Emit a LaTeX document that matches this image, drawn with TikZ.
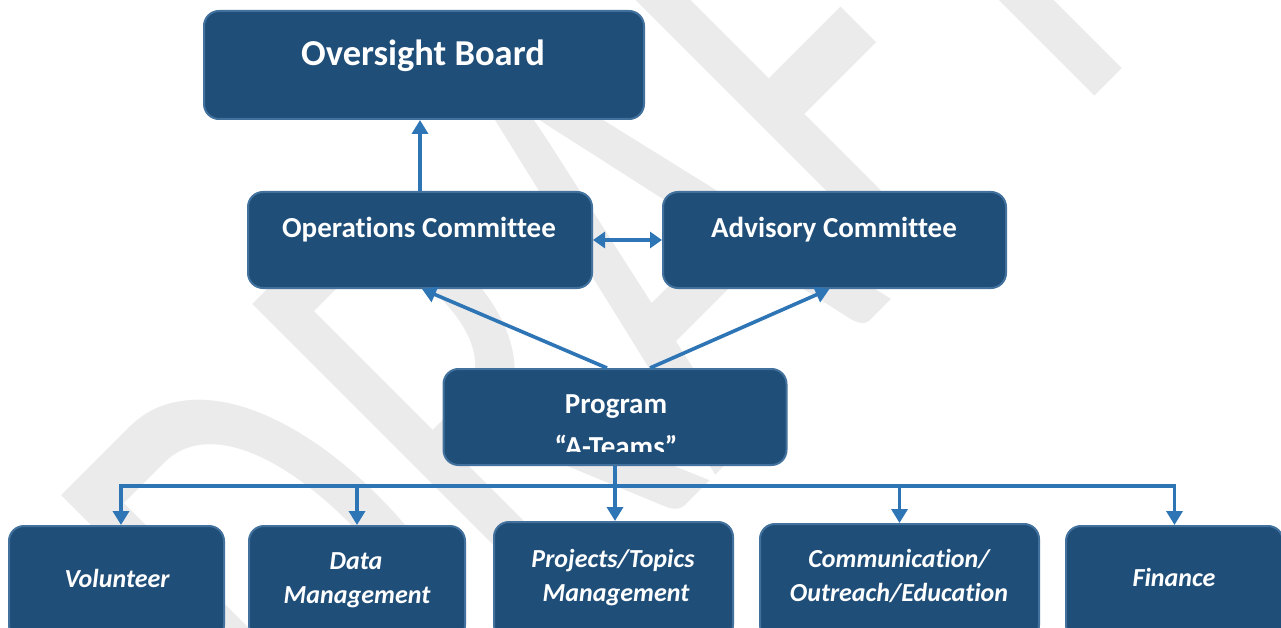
\documentclass[tikz,border=0pt]{standalone}
\usepackage{fontspec}
\setmainfont{Carlito}[Ligatures={TeX,NoCommon}]
\usetikzlibrary{arrows.meta,calc}
\definecolor{boxfill}{RGB}{31,78,121}
\definecolor{boxline}{RGB}{65,113,156}
\definecolor{arrowblue}{RGB}{46,117,182}
\definecolor{wmgray}{RGB}{235,235,235}
\begin{document}
\begin{tikzpicture}[x=1pt,y=-1pt,
 box/.style={draw=boxline,fill=boxfill,line width=2pt,rounded corners=15pt,inner sep=0pt},
 ttl/.style={text=white,inner sep=0pt,anchor=base,font=\bfseries\fontsize{29}{35}\selectfont},
 big/.style={ttl,font=\bfseries\fontsize{36.5}{43}\selectfont},
 sub/.style={ttl,font=\bfseries\itshape\fontsize{26}{31}\selectfont},
 conn/.style={draw=arrowblue,line width=3.6pt},
 arr/.style={conn,-{Triangle[length=14pt,width=16pt]}},
 darr/.style={conn,{Triangle[length=12pt,width=16pt]}-{Triangle[length=12pt,width=16pt]}},
 wm/.style={text=wmgray,inner sep=0pt,font=\fontsize{100}{100}\selectfont}
]
\useasboundingbox (0,0) rectangle (1281,628);
\clip (0,0) rectangle (1281,628);
% watermark
\begin{scope}[shift={(357,834)}]
 \node[wm,anchor=base west,transform shape,cm={3.08,3.08,-4.94,4.94,(0,0)}] (wmk) at (0,0) {DRAFT};
\end{scope}
% boxes
\node[box,minimum width=440pt,minimum height=108pt] (ob) at (424,65) {};
\node[box,minimum width=344pt,minimum height=96pt] (ops) at (420,240) {};
\node[box,minimum width=343pt,minimum height=96pt] (adv) at (834.5,240) {};
\node[box,minimum width=343pt,minimum height=96pt] (prog) at (615,417) {};
\node[box,minimum width=215pt,minimum height=114pt] (vol) at (116.5,583) {};
\node[box,minimum width=216pt,minimum height=114pt] (data) at (357,583) {};
\node[box,minimum width=239pt,minimum height=118pt] (proj) at (613.5,581) {};
\node[box,minimum width=279pt,minimum height=116pt] (comm) at (899.5,582) {};
\node[box,minimum width=217pt,minimum height=114pt] (fin) at (1174.5,583) {};
% texts
\node[big] (obt) at (423,66) {Oversight Board};
\node[ttl] (opst) at (419,238) {Operations Committee};
\node[ttl] (advt) at (834,238) {Advisory Committee};
\begin{scope}
 \clip (443,369) rectangle (787,451);
 \node[ttl] (progt1) at (616,413) {Program};
 \node[ttl] (progt2) at (616,456) {“A-Teams”};
\end{scope}
\node[sub] (volt) at (117,587) {Volunteer};
\node[sub] (datat1) at (356,569) {Data};
\node[sub] (datat2) at (357,603) {Management};
\node[sub] (projt1) at (613,567) {Projects/Topics};
\node[sub] (projt2) at (616,601) {Management};
\node[sub] (commt1) at (899,567) {Communication/};
\node[sub] (commt2) at (899,601) {Outreach/Education};
\node[sub] (fint) at (1174,586) {Finance};
% connectors
\draw[arr] (ops.north) -- (ops.north |- ob.south);
\draw[darr] (ops.east) -- (adv.west);
\draw[arr] ($(prog.north)+(-8,0)$) -- ($(ops.south)+(2,0)$);
\draw[arr] ($(prog.north)+(35,0)$) -- ($(adv.south)+(-5,0)$);
\coordinate (bus) at ($(prog.south)+(0,20)$);
\coordinate (vx) at ($(vol.north)+(4.5,0)$);
\draw[arr] (prog.south) -- (prog.south |- proj.north);
\draw[arr] (bus) -| (vx);
\draw[arr] (bus) -| (data.north);
\draw[arr] (bus) -| (comm.north);
\draw[arr] (bus) -| (fin.north);
\end{tikzpicture}
\end{document}
